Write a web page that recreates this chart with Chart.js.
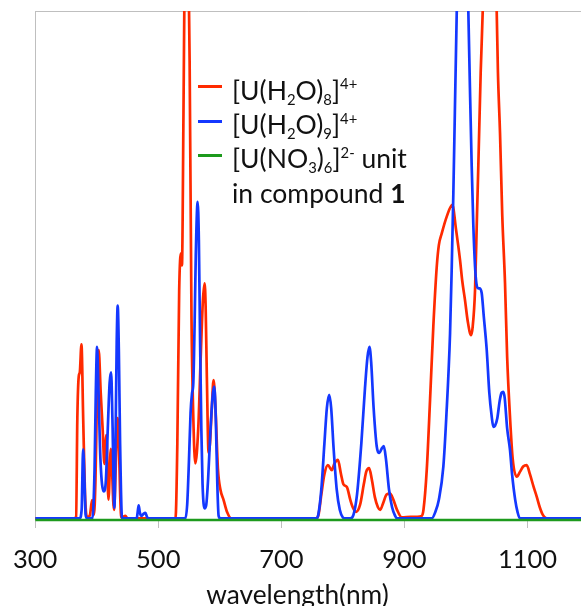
<!DOCTYPE html>
<html>
<head>
<meta charset="utf-8">
<script src="https://cdn.jsdelivr.net/npm/chart.js@4.4.1/dist/chart.umd.min.js"></script>
<style>
  html, body { margin: 0; padding: 0; background: #fff; overflow: hidden; }
  #wrap { position: relative; width: 581px; height: 606px; }
  #legend { position: absolute; left: 232px; top: 72.5px; font-family: Lato, "Open Sans", sans-serif; font-size: 26.5px; color: #111; }
  #legend .row { position: relative; height: 34.4px; line-height: 34.4px; white-space: nowrap; }
  #legend .sw { position: absolute; left: -34px; top: 12.7px; width: 24px; height: 3px; }
  #legend sub, #legend sup { font-size: 0.56em; vertical-align: baseline; position: relative; line-height: 0; }
  #legend sub { top: 0.35em; }
  #legend sup { top: -0.7em; }
  #xtitle { position: absolute; left: 0; width: 595px; top: 581px; height: 26px; line-height: 26px; text-align: center; font-family: Lato, "Open Sans", sans-serif; font-size: 26.3px; color: #111; }
</style>
</head>
<body>
<div id="wrap">
  <canvas id="chart" width="581" height="606"></canvas>
  <div id="legend">
    <div class="row"><span class="sw" style="background:#ff2a00"></span>[U(H<sub>2</sub>O)<sub>8</sub>]<sup>4+</sup></div>
    <div class="row"><span class="sw" style="background:#1438ff"></span>[U(H<sub>2</sub>O)<sub>9</sub>]<sup>4+</sup></div>
    <div class="row"><span class="sw" style="background:#1d9a1d"></span>[U(NO<sub>3</sub>)<sub>6</sub>]<sup>2-</sup> unit</div>
    <div class="row">in compound <b>1</b></div>
  </div>
  <div id="xtitle">wavelength(nm)</div>
</div>
<script>
// --- axis ---
const xMin = 300;
const xMax = 1187;
const xTicks = [300, 500, 700, 900, 1100];

// --- [U(H2O)8]4+ (red) ---
const redNm = [300, 362, 366.5, 368.5, 370.8, 372.5, 375.2, 378, 381, 384.4, 389, 392.5, 395.5, 398, 400.6, 403.2, 406.5, 409.7, 412.5, 415.7, 419, 423, 428, 434, 440, 446.6, 450, 487, 528, 531, 534, 537, 538.5, 541, 543, 546, 549, 551, 554, 557, 560.2, 565, 569, 572.5, 575.3, 577, 579, 581.8, 584, 587, 589.9, 593, 597, 601, 606.2, 612, 618.7, 756, 760.4, 765, 770, 775.6, 782.1, 786, 791.9, 797, 801, 806.5, 812, 816, 821.6, 828, 834, 838, 842.7, 847, 852, 857, 860.6, 866, 871, 876.8, 882, 888, 895.8, 910, 928.2, 931, 936.4, 941.7, 947, 952.6, 956, 960.7, 968.8, 977.9, 984, 990.4, 994, 998.5, 1003, 1008.3, 1011, 1014.8, 1018, 1020.1, 1024, 1027.3, 1032, 1038, 1044, 1050, 1052, 1055.4, 1059, 1063.5, 1067, 1071.6, 1076, 1082.5, 1088, 1093, 1098.7, 1104, 1110, 1115, 1120, 1125, 1131.2, 1187];
const redVal = [0.3, 0.3, 0.6, 20, 28.2, 29, 34.5, 20, 5, 0.5, 1, 3.9, 1, 8, 25, 33.4, 25, 17.7, 11, 16.7, 4, 14, 2, 20, 0.5, 0.8, 0.3, 0.3, 0.3, 15, 45, 52.4, 50, 80, 110, 135, 110, 90, 40, 20, 11.1, 18, 32, 43, 46.5, 42, 28, 13.2, 15, 22, 27.5, 22, 10, 6, 3.9, 1.5, 0.3, 0.3, 1, 5, 9, 10.8, 9.8, 11, 11.8, 9, 7, 6.5, 4, 2.5, 1.6, 3, 7, 9.5, 10.2, 8, 4.5, 2.5, 2.0, 3.5, 5, 5.2, 4, 2, 0.5, 0.6, 0.8, 2, 10, 23.6, 38, 49.8, 54, 56.3, 59.6, 61.9, 57, 51.1, 47, 43.2, 39, 36.3, 38, 45.2, 60, 69.4, 88, 100, 125, 132, 125, 100, 88, 76, 60, 46.6, 32, 20.3, 12, 8.5, 9.5, 10.5, 10.8, 9, 6.5, 4.6, 2.5, 1, 0.3, 0.3];

// --- [U(H2O)9]4+ (blue) ---
const blueNm = [300, 372, 375.5, 377.9, 380, 382, 384.4, 393, 396.5, 398.5, 400.6, 403, 406, 411.4, 415, 418, 421, 423.4, 425.5, 428.7, 431, 432.5, 434.1, 436, 438, 441.2, 465, 466.5, 468.2, 470, 473, 476, 479.1, 482, 486, 544, 547, 550, 552.5, 554.9, 557, 559, 561, 564, 566, 568, 570, 572, 575.3, 578, 581, 585, 589, 591.1, 593.5, 596, 598.1, 601, 757, 760, 765, 770, 774, 777.8, 781, 785, 790, 795, 800, 803.7, 812, 817.2, 823, 830, 836, 840, 843.2, 846, 850, 855, 859.4, 863, 866.6, 870, 875, 880, 885, 887.7, 944.5, 950, 956, 963.3, 968, 974.2, 977, 979.5, 982, 985.1, 990, 995, 1000, 1003.9, 1006.5, 1009.4, 1012, 1014.8, 1017, 1020.1, 1022, 1025.6, 1029, 1033.8, 1038, 1041.9, 1044.5, 1047.2, 1051, 1055, 1058, 1060.7, 1063, 1067, 1071.6, 1075, 1080, 1084, 1087.8, 1187];
const blueVal = [0.3, 0.3, 2, 13.9, 8, 1, 0.3, 0.3, 10, 25, 34, 25, 12, 5.6, 8, 18, 27, 29, 20, 2.4, 20, 35, 42.1, 33, 15, 0.3, 0.3, 1.5, 2.9, 1.5, 0.8, 1.2, 1.4, 0.5, 0.3, 0.3, 3, 12, 21, 24.9, 27, 38, 52, 62.5, 55, 35, 18, 7, 2.3, 3, 8, 18, 25, 26.2, 20, 7, 0.8, 0.3, 0.3, 1, 6, 15, 22, 24.6, 22, 14, 6, 2, 0.5, 0.3, 0.3, 1, 5, 15, 26, 32, 34, 31, 22, 14.5, 13.2, 14, 14.5, 12, 6, 2.5, 0.8, 0.3, 0.3, 1.5, 4, 10.5, 20, 36.7, 50, 63.9, 80, 100, 125, 135, 125, 100, 85, 69.4, 58, 49.8, 46.5, 45.5, 45.5, 44.6, 40, 33.4, 25, 20.3, 18.3, 18.5, 20, 23.5, 25, 25.2, 24, 18, 13.8, 9, 4, 1.5, 0.3, 0.3];

// --- [U(NO3)6]2- unit in compound 1 (green) ---
const greenNm = [300, 1187];
const greenVal = [0, 0];

const toPoints = (xs, ys) => xs.map((x, i) => ({ x: x, y: ys[i] }));

// top frame line (Excel-style plot border)
const topFrame = {
    id: 'topFrame',
    beforeDatasetsDraw(chart) {
        const { ctx, chartArea: a } = chart;
        ctx.save();
        ctx.strokeStyle = '#bfbfbf';
        ctx.lineWidth = 1;
        ctx.beginPath();
        ctx.moveTo(a.left, a.top + 0.5);
        ctx.lineTo(a.right, a.top + 0.5);
        ctx.stroke();
        ctx.restore();
    }
};

const line = (data, color, order) => ({
    data: data,
    borderColor: color,
    backgroundColor: color,
    borderWidth: 2.7,
    pointRadius: 0,
    cubicInterpolationMode: 'monotone',
    fill: false,
    // peaks are cut at the top, but the baseline stroke must stay whole
    clip: { left: 0, top: 0, right: 0, bottom: 3 },
    order: order
});

new Chart(document.getElementById('chart'), {
    type: 'line',
    data: {
        datasets: [
            line(toPoints(redNm, redVal), '#ff2a00', 2),
            line(toPoints(blueNm, blueVal), '#1438ff', 1),
            line(toPoints(greenNm, greenVal), '#1d9a1d', 0)
        ]
    },
    options: {
        responsive: false,
        animation: false,
        layout: { padding: { left: 35, top: 11, right: 0, bottom: 0 } },
        plugins: { legend: { display: false }, tooltip: { enabled: false } },
        scales: {
            x: {
                type: 'linear',
                min: xMin,
                max: xMax,
                afterBuildTicks: s => { s.ticks = xTicks.map(v => ({ value: v })); },
                afterFit: s => { s.height = 86; },
                grid: { drawOnChartArea: false, tickLength: 8, color: '#bfbfbf' },
                border: { color: '#bfbfbf' },
                ticks: {
                    color: '#111',
                    padding: 13,
                    font: { family: 'Lato', size: 25.5, lineHeight: 1.44 },
                    callback: v => String(v)
                }
            },
            y: {
                min: 0,
                max: 100,
                grid: { display: false },
                border: { color: '#bfbfbf' },
                ticks: { display: false },
                afterFit: s => { s.width = 0; }
            }
        }
    },
    plugins: [topFrame]
});
</script>
</body>
</html>
